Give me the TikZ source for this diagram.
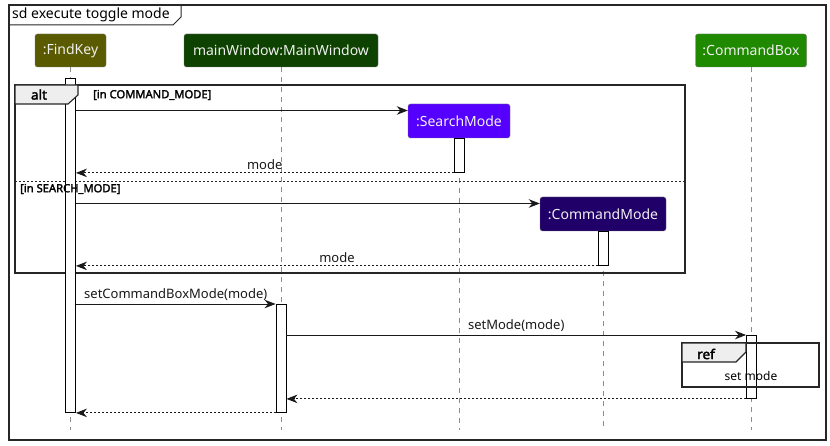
\documentclass[tikz,border=0pt]{standalone}
\usepackage{fontspec}
\setmainfont{Noto Sans}[AutoFakeBold=2.2]
\usetikzlibrary{arrows.meta}
\definecolor{cfk}{HTML}{5A5A00}
\definecolor{cmw}{HTML}{0E4200}
\definecolor{ccb}{HTML}{1F8A00}
\definecolor{csm}{HTML}{5500FF}
\definecolor{ccm}{HTML}{200068}
\definecolor{tabgray}{HTML}{EEEEEE}
\begin{document}
\begin{tikzpicture}[x=1pt,y=-1pt,
  part/.style={draw=black!55, rounded corners=2.5pt, text=white!94!black,
    font=\fontsize{14}{16}\selectfont, minimum height=33pt, inner sep=0pt},
  life/.style={draw=black!45, dash pattern=on 5pt off 5pt, line width=0.8pt},
  act/.style={draw=black, fill=white, minimum width=10pt, inner sep=0pt, anchor=north, line width=0.9pt},
  msg/.style={draw=black!90, line width=0.9pt, -{Stealth[length=11pt,width=8.5pt,inset=3.5pt]}},
  ret/.style={msg, dash pattern=on 2pt off 2pt},
  lbl/.style={font=\fontsize{13}{15}\selectfont, above, inner sep=2.5pt, text=black!90},
  guard/.style={font=\fontsize{11.2}{13}\selectfont\bfseries, anchor=west, inner sep=0pt},
  frameline/.style={draw=black!85, line width=1.3pt},
  tabtext/.style={font=\fontsize{13.5}{15}\selectfont\bfseries, inner sep=0pt},
]
\useasboundingbox (0,0) rectangle (830,446);
\fill[white] (0,0) rectangle (830,446);

% outer frame
\draw[frameline] (9,5) rectangle (826,440);
\draw[line width=1pt, draw=black!85] (9,25) -- (173,25) -- (181,17) -- (181,5);
\node[anchor=west, inner sep=0pt, font=\fontsize{14}{16}\selectfont] (title) at (12,15) {sd execute toggle mode};

% participants
\node[part, fill=cfk, minimum width=71pt] (fk) at (70.5,50.5) {:FindKey};
\node[part, fill=cmw, minimum width=194pt] (mw) at (281,50.5) {mainWindow:MainWindow};
\node[part, fill=ccb, minimum width=111pt] (cb) at (751,50.5) {:CommandBox};

\coordinate (lend) at (0,430);
\coordinate (y1) at (0,110.5);
\coordinate (y3) at (0,203.5);

% created participants
\node[part, fill=csm, minimum width=102pt, minimum height=34pt] (sm) at (459,121) {:SearchMode};
\node[part, fill=ccm, minimum width=126pt, minimum height=34pt] (cm) at (603,214) {:CommandMode};

% lifelines
\draw[life] (fk.south) -- (fk.south |- lend);
\draw[life] (mw.south) -- (mw.south |- lend);
\draw[life] (cb.south) -- (cb.south |- lend);
\draw[life] (sm.south) -- (sm.south |- lend);
\draw[life] (cm.south) -- (cm.south |- lend);

% alt frame
\draw[frameline] (15,85) rectangle (685,273);
\draw[draw=black!85, line width=0.8pt, dash pattern=on 2pt off 2pt] (15,181) -- (685,181);

% activation bars
\node[act, minimum height=334pt] (fkact) at (70.5,78) {};
\node[act, minimum height=34pt] (smact) at (459,138) {};
\node[act, minimum height=34pt] (cmact) at (603.5,231) {};
\node[act, minimum height=108pt] (mwact) at (281,304) {};
\node[act, minimum height=63pt] (cbact) at (751.5,335) {};

% alt tab and guards
\filldraw[fill=tabgray, draw=black!85, line width=1.1pt] (15,85) -- (78,85) -- (78,95) -- (68,104) -- (15,104) -- cycle;
\node[tabtext] (alt) at (39,94.5) {alt};
\node[guard] (g1) at (93,95) {[in COMMAND\_MODE]};
\node[guard] (g2) at (20,189) {[in SEARCH\_MODE]};

% ref frame
\draw[frameline, line width=1.2pt] (682,343) rectangle (819,387);
\filldraw[fill=tabgray, draw=black!85, line width=1.1pt] (682,343) -- (746,343) -- (746,352) -- (736,362) -- (682,362) -- cycle;
\node[tabtext] (reft) at (706,354) {ref};
\node[font=\fontsize{12}{14}\selectfont, inner sep=0pt] (refl) at (751,376) {set mode};

% messages
\draw[msg] (fkact.east |- y1) -- (sm.west |- y1);
\draw[ret] (smact.south west) -- node[lbl] (l2) {mode} (fkact.east |- smact.south);
\draw[msg] (fkact.east |- y3) -- (cm.west |- y3);
\draw[ret] (cmact.south west) -- node[lbl] (l4) {mode} (fkact.east |- cmact.south);
\draw[msg] (fkact.east |- mwact.north) -- node[lbl] (l5) {setCommandBoxMode(mode)} (mwact.north west);
\draw[msg] (mwact.east |- cbact.north) -- node[lbl] (l6) {setMode(mode)} (cbact.north west);
\draw[ret] (cbact.south west) -- (mwact.east |- cbact.south);
\draw[ret] (mwact.south west) -- (fkact.east |- mwact.south);
\end{tikzpicture}
\end{document}
